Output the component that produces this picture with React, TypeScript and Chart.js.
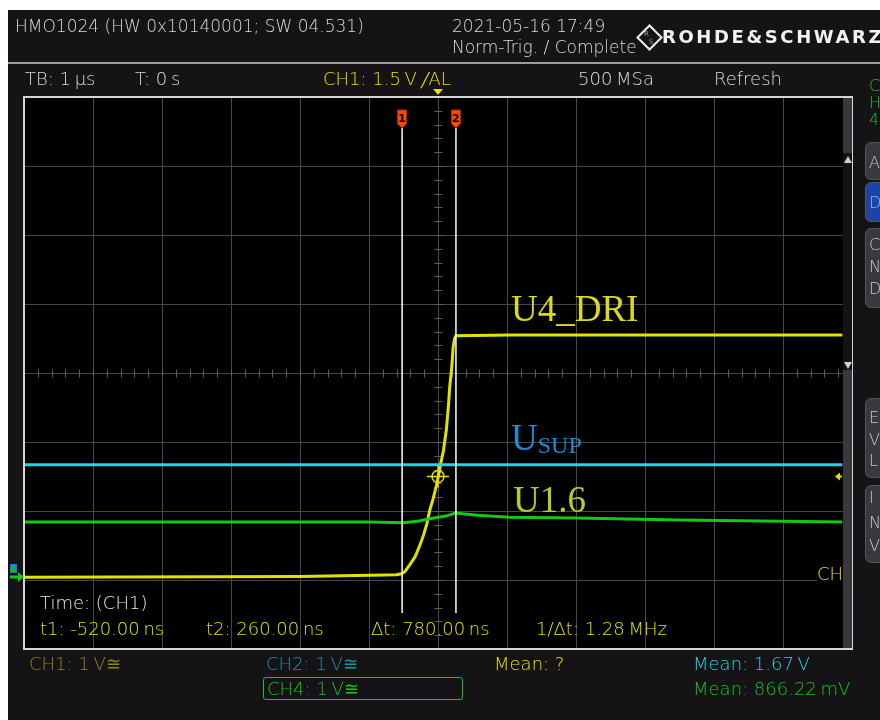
import React, { useEffect, useRef } from "react";
import { Chart, registerables } from "chart.js";

Chart.register(...registerables);

// ---------- data (time in µs, voltage in V) ----------
const TIME_MIN = -6;
const TIME_MAX = 6;
const TIME_STEP = 1; // 1 µs / div
const VOLT_MIN = -1;
const VOLT_MAX = 7;
const VOLT_STEP = 1; // 1 V / div
const MINOR_STEP = 0.2;
const CENTER_TIME = 0;
const CENTER_VOLT = 3;

const ch1Time = [-6, -2, -0.99, -0.6, -0.53, -0.48, -0.41, -0.33, -0.26, -0.21, -0.16, -0.12, -0.07, -0.02, 0.005, 0.04, 0.08, 0.12, 0.15, 0.17, 0.2, 0.22, 0.24, 0.26, 1.04, 3, 5.86];
const ch1Volt = [0.04, 0.05, 0.07, 0.075, 0.09, 0.12, 0.22, 0.34, 0.51, 0.65, 0.82, 1.01, 1.18, 1.38, 1.5, 1.69, 1.88, 2.17, 2.51, 2.8, 3.09, 3.38, 3.5, 3.54, 3.55, 3.55, 3.55];

const ch2Time = [-6, 5.86];
const ch2Volt = [1.67, 1.67];

const ch4Time = [-6, -1, -0.5, -0.3, -0.16, 0.13, 0.25, 0.57, 1.04, 2, 3.5, 5.86];
const ch4Volt = [0.84, 0.84, 0.83, 0.85, 0.88, 0.93, 0.97, 0.94, 0.91, 0.9, 0.87, 0.84];

const cursorTimes = [-0.52, 0.26];
const cursorNames = ["1", "2"];
const triggerTime = 0;
const triggerLevel = 1.5;
const groundLevel = 0;

// ---------- styles ----------
const W = 880;
const H = 720;
const YELLOW = "#e2e200";
const CYAN = "#22d4e4";
const GREEN = "#16c816";
const GRID = "#474747";
const BG = "#161316";
const SANS = '"DejaVu Sans", sans-serif';
const SERIF = '"Liberation Serif", "Times New Roman", serif';

const pts = (xs: number[], ys: number[]) => xs.map((x, i) => ({ x, y: ys[i] }));

const scopePlugin = {
  id: "scope",
  beforeDraw(chart: any) {
    const { ctx, chartArea: a } = chart;
    ctx.save();
    ctx.fillStyle = "#000";
    ctx.fillRect(a.left, a.top, a.right - a.left, a.bottom - a.top);
    ctx.restore();
  },
  beforeDatasetsDraw(chart: any) {
    const { ctx, scales } = chart;
    const xs = scales.x;
    const ys = scales.y;
    const cx = Math.round(xs.getPixelForValue(CENTER_TIME)) + 0.5;
    const cy = Math.round(ys.getPixelForValue(CENTER_VOLT)) + 0.5;
    ctx.save();
    ctx.strokeStyle = "#5c5c5c";
    ctx.lineWidth = 1;
    ctx.beginPath();
    for (let t = TIME_MIN; t <= TIME_MAX + 1e-9; t += MINOR_STEP) {
      const px = Math.round(xs.getPixelForValue(t)) + 0.5;
      ctx.moveTo(px, cy - 4);
      ctx.lineTo(px, cy + 4);
    }
    for (let v = VOLT_MIN; v <= VOLT_MAX + 1e-9; v += MINOR_STEP) {
      const py = Math.round(ys.getPixelForValue(v)) + 0.5;
      ctx.moveTo(cx - 4, py);
      ctx.lineTo(cx + 4, py);
    }
    ctx.stroke();
    ctx.restore();
  },
  afterDatasetsDraw(chart: any) {
    const { ctx, chartArea: a, scales } = chart;
    const xs = scales.x;
    const ys = scales.y;
    ctx.save();
    // cursors
    cursorTimes.forEach((t, i) => {
      const px = xs.getPixelForValue(t);
      ctx.strokeStyle = "#eeeeee";
      ctx.lineWidth = 1.6;
      ctx.beginPath();
      ctx.moveTo(px, a.top + 31);
      ctx.lineTo(px, a.bottom - 36);
      ctx.stroke();
      // flag
      ctx.fillStyle = "#ff4a00";
      ctx.strokeStyle = "#b02800";
      ctx.lineWidth = 1;
      ctx.beginPath();
      ctx.moveTo(px - 4.5, a.top + 13);
      ctx.lineTo(px + 4.5, a.top + 13);
      ctx.lineTo(px + 4.5, a.top + 27);
      ctx.lineTo(px, a.top + 31);
      ctx.lineTo(px - 4.5, a.top + 27);
      ctx.closePath();
      ctx.fill();
      ctx.stroke();
      ctx.fillStyle = "#000";
      ctx.font = "bold 11px " + SANS;
      ctx.textAlign = "center";
      ctx.textBaseline = "alphabetic";
      ctx.fillText(cursorNames[i], px, a.top + 25);
    });
    // trigger crosshair
    const tx = xs.getPixelForValue(triggerTime);
    const ty = ys.getPixelForValue(triggerLevel);
    ctx.strokeStyle = YELLOW;
    ctx.lineWidth = 1.5;
    ctx.beginPath();
    ctx.arc(tx, ty, 6, 0, Math.PI * 2);
    ctx.moveTo(tx - 11, ty);
    ctx.lineTo(tx + 11, ty);
    ctx.moveTo(tx, ty - 11);
    ctx.lineTo(tx, ty + 11);
    ctx.stroke();
    ctx.restore();
  },
  afterDraw(chart: any) {
    const { ctx, chartArea: a, scales } = chart;
    const xs = scales.x;
    const ys = scales.y;
    ctx.save();
    // graticule frame
    ctx.strokeStyle = "#d4d4d4";
    ctx.lineWidth = 2;
    ctx.strokeRect(a.left, a.top, a.right - a.left, a.bottom - a.top);
    // trigger position marker (top)
    const tx = xs.getPixelForValue(triggerTime);
    ctx.fillStyle = YELLOW;
    ctx.beginPath();
    ctx.moveTo(tx - 5, a.top - 8);
    ctx.lineTo(tx + 5, a.top - 8);
    ctx.lineTo(tx, a.top - 2);
    ctx.closePath();
    ctx.fill();
    // trigger level marker (right)
    const ty = ys.getPixelForValue(triggerLevel);
    ctx.beginPath();
    ctx.moveTo(a.right - 17, ty);
    ctx.lineTo(a.right - 12, ty - 4);
    ctx.lineTo(a.right - 12, ty + 4);
    ctx.closePath();
    ctx.fill();
    ctx.fillRect(a.right - 12, ty - 1, 2, 2);
    // ground marker (left)
    const gy = ys.getPixelForValue(groundLevel) - 3;
    ctx.fillStyle = GREEN;
    ctx.fillRect(a.left - 14, gy - 1.5, 9, 3);
    ctx.beginPath();
    ctx.moveTo(a.left - 6, gy - 5);
    ctx.lineTo(a.left, gy);
    ctx.lineTo(a.left - 6, gy + 5);
    ctx.closePath();
    ctx.fill();
    ctx.fillStyle = "#1a7ad0";
    ctx.fillRect(a.left - 14, gy - 13, 7, 9);
    ctx.fillStyle = GREEN;
    ctx.font = "bold 9px " + SANS;
    ctx.textAlign = "left";
    ctx.fillText("4", a.left - 14, gy - 5);
    ctx.restore();
  },
};

type TP = {
  x: number;
  y: number;
  size?: number;
  color?: string;
  bold?: boolean;
  family?: string;
  ls?: number;
  bg?: string;
  children: React.ReactNode;
};

function T({ x, y, size = 18, color = "#dcdcdc", bold = false, family = SANS, ls = 0, bg, children }: TP) {
  const k = family === SERIF ? 0.8375 : 0.846;
  return (
    <div
      style={{
        position: "absolute",
        left: x,
        top: y - size * k,
        fontFamily: family,
        fontSize: size,
        lineHeight: `${size}px`,
        color,
        fontWeight: bold ? 700 : 300,
        letterSpacing: ls,
        whiteSpace: "nowrap",
        background: bg,
      }}
    >
      {children}
    </div>
  );
}

function Btn({ top, height, bg = "#3a383c", letters, color = "#c8c8c8" }: { top: number; height: number; bg?: string; letters: [string, number][]; color?: string }) {
  return (
    <>
      <div
        style={{
          position: "absolute",
          left: 865,
          top,
          width: 30,
          height,
          background: bg,
          borderRadius: 6,
          border: "1px solid #555",
          boxSizing: "border-box",
        }}
      />
      {letters.map(([c, b], i) => (
        <T key={i} x={869} y={b} size={16} color={color}>
          {c}
        </T>
      ))}
    </>
  );
}

const TS = "\u2009";

export default function App() {
  const ref = useRef<HTMLCanvasElement>(null);

  useEffect(() => {
    const chart = new Chart(ref.current as HTMLCanvasElement, {
      type: "line",
      data: {
        datasets: [
          { label: "CH2", data: pts(ch2Time, ch2Volt), borderColor: CYAN, borderWidth: 3, pointRadius: 0, tension: 0 },
          { label: "CH4", data: pts(ch4Time, ch4Volt), borderColor: GREEN, borderWidth: 3, pointRadius: 0, tension: 0 },
          { label: "CH1", data: pts(ch1Time, ch1Volt), borderColor: YELLOW, borderWidth: 3, pointRadius: 0, tension: 0 },
        ],
      },
      options: {
        animation: false,
        responsive: false,
        events: [],
        layout: { padding: { left: 24, top: 97, right: 28, bottom: 71 } },
        plugins: { legend: { display: false }, tooltip: { enabled: false } },
        scales: {
          x: {
            type: "linear",
            min: TIME_MIN,
            max: TIME_MAX,
            ticks: { stepSize: TIME_STEP, display: false },
            grid: { color: GRID, lineWidth: 1, drawTicks: false },
            border: { display: false },
            afterFit: (s: any) => {
              s.height = 0;
            },
          },
          y: {
            type: "linear",
            min: VOLT_MIN,
            max: VOLT_MAX,
            ticks: { stepSize: VOLT_STEP, display: false },
            grid: { color: GRID, lineWidth: 1, drawTicks: false },
            border: { display: false },
            afterFit: (s: any) => {
              s.width = 0;
            },
          },
        },
      } as any,
      plugins: [scopePlugin],
    });
    return () => chart.destroy();
  }, []);

  return (
    <div style={{ position: "fixed", left: 0, top: 0, width: W, height: H, overflow: "hidden", background: "#fff" }}>
      <div style={{ position: "absolute", left: 8, top: 10, right: 0, bottom: 0, background: BG }} />
      <div style={{ position: "absolute", left: 8, top: 62, right: 0, height: 2, background: "#9c9c9c" }} />
      <canvas ref={ref} width={W} height={H} style={{ position: "absolute", left: 0, top: 0 }} />

      {/* header */}
      <T x={15} y={32} size={17}>HMO1024 (HW 0x10140001; SW 04.531)</T>
      <T x={452} y={32} size={17}>2021-05-16 17:49</T>
      <T x={452} y={53} size={17}>Norm-Trig. / Complete</T>
      <div
        style={{
          position: "absolute",
          left: 640,
          top: 28,
          width: 15,
          height: 15,
          border: "2px solid #eeeeee",
          transform: "rotate(45deg)",
        }}
      />
      <T x={644} y={37} size={7} color="#eeeeee">R</T>
      <T x={649} y={45} size={7} color="#eeeeee">S</T>
      <T x={662} y={43} size={18} bold color="#f2f2f2" ls={2.6}>ROHDE&amp;SCHWARZ</T>

      {/* status row */}
      <T x={25} y={85}>TB: 1{TS}µs</T>
      <T x={135} y={85}>T: 0{TS}s</T>
      <T x={323} y={85} color={YELLOW}>
        CH1: 1.5{TS}V{TS}<span style={{ fontSize: 14, lineHeight: 0 }}>╱</span>AL
      </T>
      <T x={578} y={85}>500{TS}MSa</T>
      <T x={714} y={85}>Refresh</T>
      <T x={869} y={92} size={16} color={GREEN}>C</T>
      <T x={869} y={109} size={16} color={GREEN}>H</T>
      <T x={869} y={126} size={16} color={GREEN}>4</T>

      {/* trace labels */}
      <T x={511} y={321} size={37} family={SERIF} color="#dcd81c">U4_DRI</T>
      <T x={511} y={450} size={37} family={SERIF} color="#1c8cd4">
        U<span style={{ fontSize: 24, lineHeight: 0, verticalAlign: "-3px" }}>SUP</span>
      </T>
      <T x={513} y={512} size={37} family={SERIF} color="#b4cc28">U1.6</T>
      <T x={817} y={580} color={YELLOW} bg="#000">CH</T>

      {/* scrollbar */}
      <div style={{ position: "absolute", left: 843, top: 98, width: 9, height: 550, background: "#3a383c" }} />
      <div style={{ position: "absolute", left: 843, top: 153, width: 9, height: 217, background: "#141214" }} />
      <div
        style={{
          position: "absolute",
          left: 843.5,
          top: 156,
          width: 0,
          height: 0,
          borderLeft: "4px solid transparent",
          borderRight: "4px solid transparent",
          borderBottom: "7px solid #d0d0d0",
        }}
      />
      <div
        style={{
          position: "absolute",
          left: 843.5,
          top: 362,
          width: 0,
          height: 0,
          borderLeft: "4px solid transparent",
          borderRight: "4px solid transparent",
          borderTop: "7px solid #d0d0d0",
        }}
      />

      {/* side menu (cut off) */}
      <Btn top={142} height={38} letters={[["A", 169]]} />
      <Btn top={182} height={40} bg="#1a44a8" color="#8fb8ff" letters={[["D", 209]]} />
      <Btn top={228} height={80} letters={[["C", 251], ["N", 273], ["D", 295]]} />
      <Btn top={398} height={80} letters={[["E", 424], ["V", 446], ["L", 467]]} />
      <Btn top={485} height={78} letters={[["I", 504], ["N", 529], ["V", 552]]} />

      {/* measurement readout */}
      <T x={40} y={609} color="#e6e6e6">Time: (CH1)</T>
      <T x={40} y={635} color={YELLOW}>t1: -520.00{TS}ns</T>
      <T x={206} y={635} color={YELLOW}>t2: 260.00{TS}ns</T>
      <T x={371} y={635} color={YELLOW}>Δt: 780.00{TS}ns</T>
      <T x={536} y={635} color={YELLOW}>1/Δt: 1.28{TS}MHz</T>

      {/* channel settings */}
      <T x={29} y={670} color="#8a8a16">CH1: 1{TS}V≅</T>
      <T x={266} y={670} color="#1a94a2">CH2: 1{TS}V≅</T>
      <div
        style={{
          position: "absolute",
          left: 263,
          top: 677,
          width: 200,
          height: 23,
          border: `1.5px solid ${GREEN}`,
          borderRadius: 3,
          boxSizing: "border-box",
        }}
      />
      <T x={267} y={695} color={GREEN}>CH4: 1{TS}V≅</T>
      <T x={494} y={670} color={YELLOW}>Mean: ?</T>
      <T x={693} y={670} color="#20d8e8">Mean: 1.67{TS}V</T>
      <T x={693} y={695} color={GREEN}>Mean: 866.22{TS}mV</T>
    </div>
  );
}
